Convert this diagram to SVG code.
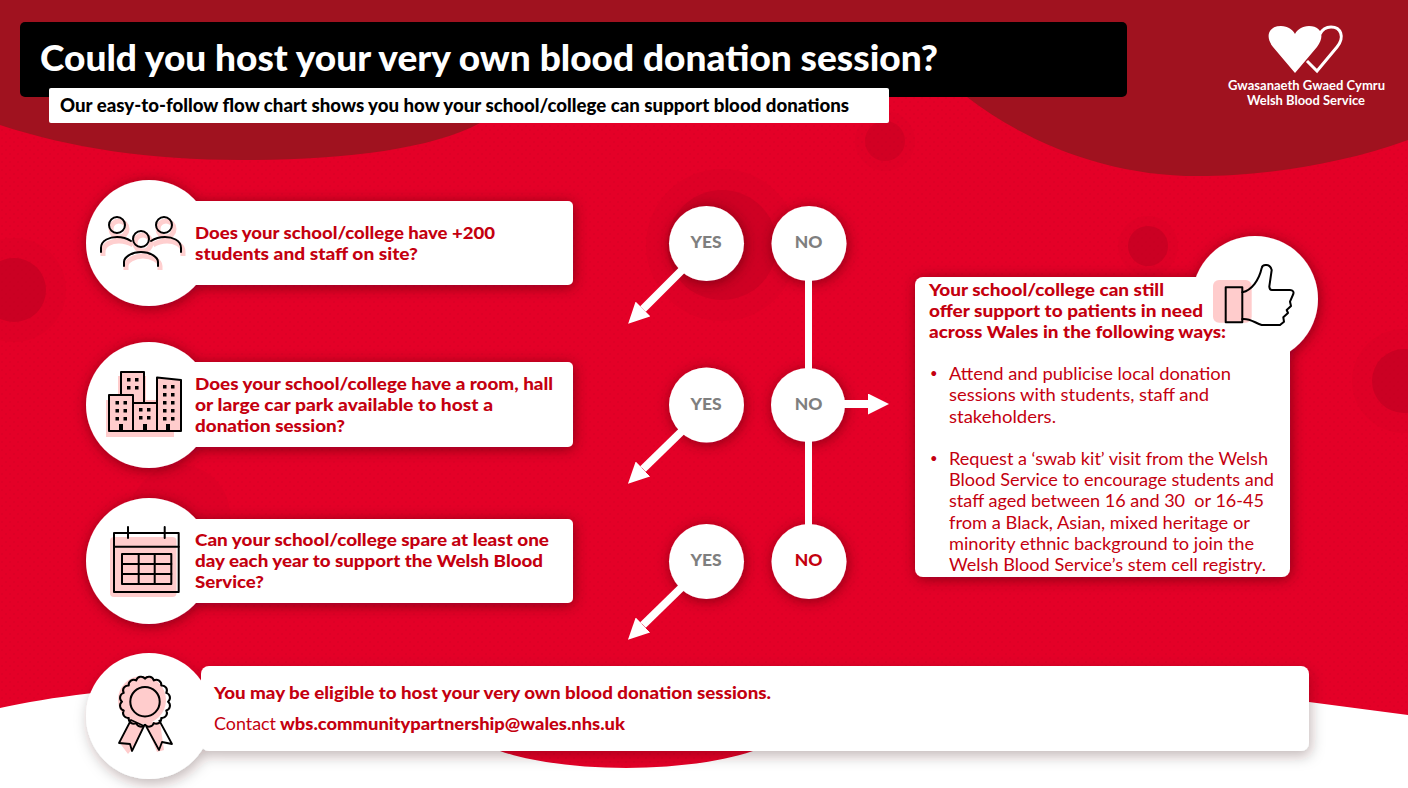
<svg xmlns="http://www.w3.org/2000/svg" width="1408" height="788" viewBox="0 0 1408 788">
<style>
text{font-family:Lato,"Noto Sans","Liberation Sans",sans-serif}
.q{font-size:17.5px;font-weight:900;fill:#c4000f}
.b{font-size:17.5px;fill:#c4000f}
.dot{font-size:13px;fill:#c4000f}
.yn{font-size:17.5px;font-weight:900;fill:#7f7f7f;text-anchor:middle}
.w{fill:#fff}
.ic{fill:none;stroke:#000;stroke-width:2;stroke-linecap:round;stroke-linejoin:round}
.pk{fill:none;stroke:#ffcfcf;stroke-width:5}
.pf{fill:#ffcccc}
.bl{fill:#000}
.ln{stroke:#fff;stroke-width:7;fill:none}
.arr{stroke:#fff;stroke-width:8;fill:none;marker-end:url(#ah)}
.blob{fill:#b80020}
</style>
<defs>
<pattern id="dots" width="8" height="8" patternUnits="userSpaceOnUse">
<circle cx="2" cy="2" r="1.100" fill="#a8001c" opacity=".3"/><circle cx="6" cy="6" r="1.100" fill="#a8001c" opacity=".3"/>
</pattern>
<marker id="ah" viewBox="0 0 21 21" markerUnits="userSpaceOnUse" markerWidth="21" markerHeight="21" refX="0" refY="10.500" orient="auto"><path d="M0 0L21 10.500L0 21Z" fill="#fff"/></marker>
<filter id="sh" filterUnits="userSpaceOnUse" x="0" y="0" width="1408" height="788"><feDropShadow dx="1" dy="2" stdDeviation="7" flood-color="#3a0008" flood-opacity=".55"/></filter>
<filter id="sh2" filterUnits="userSpaceOnUse" x="0" y="0" width="1408" height="788"><feDropShadow dx="2" dy="5" stdDeviation="7" flood-color="#300006" flood-opacity=".28"/></filter>
</defs>

<g id="background">
<rect width="1408" height="788" fill="#e40027"/>
<rect width="1408" height="788" fill="url(#dots)" opacity=".45"/>
<g class="blob">
<circle cx="14" cy="290" r="52" opacity=".1"/><circle cx="14" cy="290" r="32" opacity=".5"/>
<circle cx="1404" cy="381" r="52" opacity=".1"/><circle cx="1404" cy="381" r="32" opacity=".5"/>
<circle cx="1148" cy="246" r="30" opacity=".1"/><circle cx="1148" cy="246" r="20" opacity=".5"/>
<circle cx="885" cy="141" r="30" opacity=".08"/><circle cx="885" cy="141" r="20" opacity=".35"/>
<circle cx="722" cy="245" r="76" opacity=".12"/><circle cx="722" cy="245" r="55" opacity=".4"/>
<circle cx="180" cy="515" r="50" opacity=".12"/>
</g>
<path d="M0 0H1408V140C1340 165 1260 176 1198 176C1110 176 1030 145 967 97L950 60H480V123C430 150 340 160 242 160C150 160 70 148 0 125Z" fill="#a0121f"/>
<path d="M0 708C50 697 120 688 200 684C330 680 430 725 500 751C560 772 680 775 753 751C850 715 1100 665 1309 702L1408 715V788H0Z" fill="#fff"/>
</g>

<g id="header">
<rect x="20" y="22" width="1107" height="75" rx="5" fill="#000"/>
<text x="40" y="71" font-size="36" font-weight="900" fill="#fff" textLength="898" lengthAdjust="spacingAndGlyphs">Could you host your very own blood donation session?</text>
<rect x="49" y="88" width="840" height="35" rx="2" fill="#fff"/>
<text x="60" y="112" font-size="18" font-weight="900" fill="#000" textLength="789" lengthAdjust="spacingAndGlyphs">Our easy-to-follow flow chart shows you how your school/college can support blood donations</text>
</g>

<g id="logo">
<path d="M1295 73L1273 47C1265 37 1268 26 1281 26C1288 26 1293 30 1295 34C1297 30 1302 26 1309 26C1322 26 1325 37 1317 47Z" fill="#fff"/>
<path d="M1307 61L1317 71L1337 47C1345 37 1341 27 1331 27C1326 27 1322 30 1320 34" fill="none" stroke="#fff" stroke-width="3"/>
<text x="1228" y="90" font-size="12.500" font-weight="700" fill="#fff" textLength="157" lengthAdjust="spacingAndGlyphs">Gwasanaeth Gwaed Cymru</text>
<text x="1247" y="105" font-size="12.500" font-weight="700" fill="#fff" textLength="118" lengthAdjust="spacingAndGlyphs">Welsh Blood Service</text>
</g>

<g id="q1">
<g filter="url(#sh)" class="w"><circle cx="149" cy="243" r="63"/><rect x="180" y="201" width="393" height="84" rx="5"/></g>
<g class="pk" transform="translate(2 4)"><circle cx="117" cy="225" r="8"/><circle cx="164" cy="225" r="8"/><circle cx="141" cy="239" r="8"/><path d="M101 252V248C101 240 110 237 117 237C123 237 128 239 131 241M181 252V248C181 240 172 237 165 237C158 237 154 239 151 241M124 266V262C124 257 132 252 141 252C150 252 158 257 158 262V266"/></g>
<g class="ic"><circle cx="117" cy="225" r="8"/><circle cx="164" cy="225" r="8"/><circle cx="141" cy="239" r="8"/><path d="M101 252V248C101 240 110 237 117 237C123 237 128 239 131 241M181 252V248C181 240 172 237 165 237C158 237 154 239 151 241M124 266V262C124 257 132 252 141 252C150 252 158 257 158 262V266"/></g>
<text class="q" x="195" y="239" textLength="300" lengthAdjust="spacingAndGlyphs">Does your school/college have +200</text>
<text class="q" x="195" y="260" textLength="223" lengthAdjust="spacingAndGlyphs">students and staff on site?</text>
</g>

<g id="q2">
<g filter="url(#sh)" class="w"><circle cx="149" cy="405" r="63"/><rect x="180" y="362" width="393" height="85" rx="5"/></g>
<path class="pf" d="M106 400H118V376H146V400H164V384H176V431H174V437H106Z"/>
<path class="pf" d="M121 372H144V403H157V377.500L181 380V431H109V395H121Z"/>
<path class="ic" d="M121 395V372H144V403M109 395H133V431H109ZM133 403H157V431H133ZM157 377.500L181 380V431H157Z" stroke-linecap="square"/>
<g class="bl">
<rect x="127" y="378" width="3.500" height="3.500"/><rect x="135" y="378" width="3.500" height="3.500"/><rect x="127" y="386" width="3.500" height="3.500"/><rect x="135" y="386" width="3.500" height="3.500"/>
<rect x="115.500" y="401" width="3.500" height="3.500"/><rect x="123.500" y="401" width="3.500" height="3.500"/><rect x="115.500" y="409" width="3.500" height="3.500"/><rect x="123.500" y="409" width="3.500" height="3.500"/><rect x="115.500" y="417" width="3.500" height="3.500"/><rect x="123.500" y="417" width="3.500" height="3.500"/>
<rect x="139" y="408" width="3.500" height="3.500"/><rect x="147" y="408" width="3.500" height="3.500"/><rect x="139" y="416" width="3.500" height="3.500"/><rect x="147" y="416" width="3.500" height="3.500"/>
<rect x="163" y="385" width="3.500" height="3.500"/><rect x="171" y="385" width="3.500" height="3.500"/><rect x="163" y="393" width="3.500" height="3.500"/><rect x="171" y="393" width="3.500" height="3.500"/><rect x="163" y="401" width="3.500" height="3.500"/><rect x="171" y="401" width="3.500" height="3.500"/><rect x="163" y="409" width="3.500" height="3.500"/><rect x="171" y="409" width="3.500" height="3.500"/><rect x="163" y="417" width="3.500" height="3.500"/><rect x="171" y="417" width="3.500" height="3.500"/>
<rect x="119" y="424" width="4" height="7"/><rect x="143" y="424" width="4" height="7"/><rect x="166" y="424" width="4" height="7"/>
</g>
<text class="q" x="195" y="390" textLength="358" lengthAdjust="spacingAndGlyphs">Does your school/college have a room, hall</text>
<text class="q" x="195" y="411" textLength="298" lengthAdjust="spacingAndGlyphs">or large car park available to host a</text>
<text class="q" x="195" y="432" textLength="150" lengthAdjust="spacingAndGlyphs">donation session?</text>
</g>

<g id="q3">
<g filter="url(#sh)" class="w"><circle cx="149" cy="561" r="63"/><rect x="180" y="519" width="393" height="84" rx="5"/></g>
<rect class="pf" x="110" y="537" width="66.500" height="60" rx="4"/>
<g class="ic" stroke-linecap="butt"><rect x="114" y="533" width="64.700" height="59"/><path d="M114 546.700H178.700M128 527V538M164.700 527V538"/><rect x="122" y="554" width="49.300" height="30"/><path d="M138.700 554V584M154.700 554V584M122 564H171.300M122 574H171.300"/></g>
<text class="q" x="195" y="546" textLength="354" lengthAdjust="spacingAndGlyphs">Can your school/college spare at least one</text>
<text class="q" x="195" y="567" textLength="348" lengthAdjust="spacingAndGlyphs">day each year to support the Welsh Blood</text>
<text class="q" x="195" y="588" textLength="69" lengthAdjust="spacingAndGlyphs">Service?</text>
</g>

<g id="outcome">
<g filter="url(#sh2)" class="w"><circle cx="149" cy="716" r="63"/><rect x="201" y="666" width="1108" height="85" rx="8"/></g>
<circle class="pf" cx="142" cy="700" r="24"/>
<path class="pf" d="M131 721L119 742L128 754L137 743L142 725ZM145 722L157 752L164 750L160 722Z"/>
<path d="M131 720L119 743L130 744L132 751L144 726Z" class="pf" stroke="#000" stroke-width="1.800" stroke-linejoin="round"/>
<path d="M159 720L172 744L162 742L159 750L146 726" fill="none" stroke="#000" stroke-width="1.800" stroke-linejoin="round"/>
<path class="ic" d="M168 701.700A5 5 0 0 1 166.250 710.500A5 5 0 0 1 161.260 718A5 5 0 0 1 153.800 723A5 5 0 0 1 145 724.700A5 5 0 0 1 136.200 723A5 5 0 0 1 128.740 718A5 5 0 0 1 123.750 710.500A5 5 0 0 1 122 701.700A5 5 0 0 1 123.750 692.900A5 5 0 0 1 128.740 685.440A5 5 0 0 1 136.200 680.450A5 5 0 0 1 145 678.700A5 5 0 0 1 153.800 680.450A5 5 0 0 1 161.260 685.440A5 5 0 0 1 166.250 692.900A5 5 0 0 1 168 701.700Z"/>
<circle class="ic" cx="145" cy="701.700" r="14.700"/>
<text class="q" x="214" y="699" textLength="557" lengthAdjust="spacingAndGlyphs">You may be eligible to host your very own blood donation sessions.</text>
<text class="b" x="214" y="730" textLength="62" lengthAdjust="spacingAndGlyphs">Contact</text>
<text class="q" x="280" y="730" textLength="345" lengthAdjust="spacingAndGlyphs">wbs.communitypartnership@wales.nhs.uk</text>
</g>

<g id="yes1"><circle class="w" cx="706.500" cy="243.500" r="37.500" filter="url(#sh)"/><text class="yn" x="706" y="248">YES</text></g>
<g id="no1"><circle class="w" cx="809" cy="243.500" r="37.500" filter="url(#sh)"/><text class="yn" x="808.500" y="248">NO</text></g>
<g id="yes2"><circle class="w" cx="706.500" cy="405" r="37.500" filter="url(#sh)"/><text class="yn" x="706" y="410">YES</text></g>
<g id="no2"><circle class="w" cx="808" cy="405" r="37" filter="url(#sh)"/><text class="yn" x="808.500" y="410">NO</text></g>
<g id="yes3"><circle class="w" cx="706.500" cy="561.500" r="37.500" filter="url(#sh)"/><text class="yn" x="706" y="566">YES</text></g>
<g id="no3"><circle class="w" cx="809" cy="561.500" r="37.500" filter="url(#sh)"/><text class="yn" x="808.500" y="566" style="fill:#c4000f">NO</text></g>

<g id="connectors">
<path class="ln" d="M808.500 280V369M808.500 441V525"/>
<path class="arr" d="M844 404H868"/>
<path class="arr" d="M682 270L643 309"/>
<path class="arr" d="M682 431L643 469"/>
<path class="arr" d="M682 587L643 625"/>
</g>

<g id="panel">
<g filter="url(#sh)" class="w"><circle cx="1255" cy="299" r="63"/><rect x="915" y="277" width="375" height="300" rx="8"/></g>
<rect class="pf" x="1213" y="280" width="38.700" height="42.700" rx="6"/>
<rect class="ic" x="1225.700" y="287.300" width="16.600" height="35"/>
<path class="ic" d="M1242.300 292.300C1252 290 1259 280 1261.700 268C1262.500 264 1270 263.500 1271.700 270L1269.300 286.700C1269.500 289 1270.500 290 1271.700 290H1290C1293 290 1294 292 1293.300 294L1290 301.700L1291 306L1286.700 310L1288 313L1283.300 317.300L1284 321.700L1280 325H1261.700C1255 323 1250 318 1242.300 319"/>
<text class="q" x="929" y="296" textLength="235" lengthAdjust="spacingAndGlyphs">Your school/college can still</text>
<text class="q" x="929" y="317" textLength="274" lengthAdjust="spacingAndGlyphs">offer support to patients in need</text>
<text class="q" x="929" y="338" textLength="297" lengthAdjust="spacingAndGlyphs">across Wales in the following ways:</text>
<text class="dot" x="930" y="378">•</text>
<text class="b" x="949" y="380" textLength="282" lengthAdjust="spacingAndGlyphs">Attend and publicise local donation</text>
<text class="b" x="949" y="401" textLength="260" lengthAdjust="spacingAndGlyphs">sessions with students, staff and</text>
<text class="b" x="949" y="423" textLength="107" lengthAdjust="spacingAndGlyphs">stakeholders.</text>
<text class="dot" x="930" y="463">•</text>
<text class="b" x="949" y="465" textLength="319" lengthAdjust="spacingAndGlyphs">Request a ‘swab kit’ visit from the Welsh</text>
<text class="b" x="949" y="486" textLength="325" lengthAdjust="spacingAndGlyphs">Blood Service to encourage students and</text>
<text class="b" x="949" y="507" textLength="315" lengthAdjust="spacingAndGlyphs" xml:space="preserve">staff aged between 16 and 30  or 16-45</text>
<text class="b" x="949" y="529" textLength="301" lengthAdjust="spacingAndGlyphs">from a Black, Asian, mixed heritage or</text>
<text class="b" x="949" y="550" textLength="305" lengthAdjust="spacingAndGlyphs">minority ethnic background to join the</text>
<text class="b" x="949" y="571" textLength="317" lengthAdjust="spacingAndGlyphs">Welsh Blood Service’s stem cell registry.</text>
</g>
</svg>
